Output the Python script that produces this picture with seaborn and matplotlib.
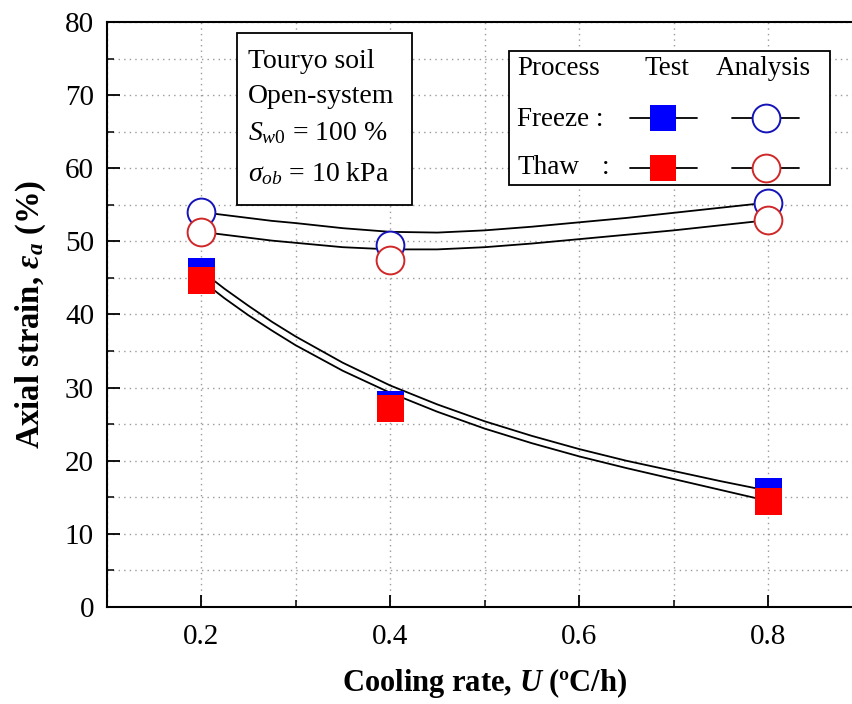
import matplotlib
matplotlib.use("Agg")
import matplotlib.pyplot as plt
import seaborn as sns
import pandas as pd
from matplotlib.lines import Line2D
from matplotlib.patches import Rectangle
from matplotlib.ticker import MultipleLocator

# ---------------- data ----------------
u_test = [0.2, 0.4, 0.8]
freeze_test = [45.9, 27.7, 15.8]
thaw_test = [44.7, 27.2, 14.4]
freeze_analysis = [54.0, 49.5, 55.3]
thaw_analysis = [51.3, 47.5, 52.9]

u_curve = [0.20, 0.225, 0.25, 0.275, 0.30, 0.35, 0.40, 0.45, 0.50, 0.55, 0.60, 0.65, 0.70, 0.75, 0.80]
freeze_test_fit = [46.0, 43.5, 41.2, 39.0, 37.0, 33.4, 30.3, 27.7, 25.4, 23.4, 21.6, 20.0, 18.6, 17.2, 15.9]
thaw_test_fit = [44.7, 42.2, 39.9, 37.8, 35.8, 32.3, 29.3, 26.7, 24.4, 22.4, 20.6, 19.0, 17.5, 16.0, 14.5]
freeze_analysis_curve = [54.0, 53.6, 53.2, 52.8, 52.5, 51.8, 51.3, 51.2, 51.5, 52.0, 52.6, 53.2, 53.9, 54.6, 55.3]
thaw_analysis_curve = [51.3, 50.9, 50.5, 50.1, 49.8, 49.2, 48.9, 48.9, 49.2, 49.7, 50.3, 50.9, 51.5, 52.2, 52.9]

x_ticks = [0.2, 0.4, 0.6, 0.8]
x_tick_labels = ["0.2", "0.4", "0.6", "0.8"]
y_ticks = [0, 10, 20, 30, 40, 50, 60, 70, 80]

info_lines = ["Touryo soil", "Open-system", r"$S_{w0}$ = 100 %", r"$\sigma_{ob}$ = 10 kPa"]

# ---------------- style ----------------
sns.set_style("ticks")
plt.rcParams.update({
    "font.family": ["Liberation Serif", "DejaVu Serif"],
    "mathtext.fontset": "custom",
    "mathtext.rm": "Liberation Serif",
    "mathtext.it": "Liberation Serif:italic",
    "mathtext.bf": "Liberation Serif:bold:italic",
    "axes.edgecolor": "black",
    "axes.labelcolor": "black",
    "xtick.color": "black",
    "ytick.color": "black",
    "axes.linewidth": 1.5,
    "text.color": "black",
})

fig = plt.figure(figsize=(8.53, 7.04), dpi=100)
ax = fig.add_axes([0.1249, 0.1378, 0.8863, 0.831])

BLUE = "#0000FF"
RED = "#FF0000"
BLUE_E = "#1414B8"
RED_E = "#D02828"

curves = pd.DataFrame({
    "u": u_curve,
    "ft": freeze_test_fit,
    "tt": thaw_test_fit,
    "fa": freeze_analysis_curve,
    "ta": thaw_analysis_curve,
})
for col in ["ft", "tt", "fa", "ta"]:
    sns.lineplot(data=curves, x="u", y=col, ax=ax, color="black", lw=1.3,
                 sort=False, estimator=None, zorder=2)

pts = pd.DataFrame({
    "u": u_test,
    "ft": freeze_test,
    "tt": thaw_test,
    "fa": freeze_analysis,
    "ta": thaw_analysis,
})
sns.scatterplot(data=pts, x="u", y="fa", ax=ax, marker="o", s=400, color="white",
                edgecolor=BLUE_E, linewidth=1.4, zorder=3)
sns.scatterplot(data=pts, x="u", y="ta", ax=ax, marker="o", s=400, color="white",
                edgecolor=RED_E, linewidth=1.4, zorder=3)
sns.scatterplot(data=pts, x="u", y="ft", ax=ax, marker="s", s=377, color=BLUE,
                edgecolor="none", linewidth=0, zorder=4)
sns.scatterplot(data=pts, x="u", y="tt", ax=ax, marker="s", s=377, color=RED,
                edgecolor="none", linewidth=0, zorder=4)

ax.set_xlim(0.1, 0.9)
ax.set_ylim(0, 80)
ax.set_xticks(x_ticks)
ax.set_xticklabels(x_tick_labels)
ax.set_yticks(y_ticks)
ax.xaxis.set_minor_locator(MultipleLocator(0.1))
ax.yaxis.set_minor_locator(MultipleLocator(5))
ax.tick_params(which="major", direction="in", length=9, width=1.3, labelsize=21, pad=9)
ax.tick_params(which="minor", direction="in", length=5, width=1.1)
ax.tick_params(axis="x", which="major", pad=12)
ax.grid(which="both", color="#9a9a9a", linestyle=(0, (1, 3)), linewidth=1.0)
ax.set_axisbelow(True)
for s in ax.spines.values():
    s.set_visible(True)
    s.set_linewidth(1.5)

ax.set_xlabel(r"Cooling rate, $\mathbf{U}$ (ºC/h)", fontsize=22, fontweight="bold", labelpad=12)
ax.set_ylabel(r"Axial strain, $\mathbf{\varepsilon_a}$ (%)", fontsize=23.5, fontweight="bold", labelpad=12)

# ---------------- info box ----------------
T = ax.transAxes
ax.add_patch(Rectangle((0.1726, 0.6872), 0.2315, 0.294, transform=T, fill=True,
                       facecolor="white", edgecolor="black", lw=1.3, zorder=5))
for txt, yy in zip(info_lines, [0.9316, 0.8718, 0.8103, 0.7400]):
    ax.text(0.1871, yy, txt, transform=T, fontsize=20, va="center", ha="left", zorder=6)

# ---------------- legend box ----------------
ax.add_patch(Rectangle((0.5324, 0.7214), 0.4246, 0.229, transform=T, fill=True,
                       facecolor="white", edgecolor="black", lw=1.3, zorder=5))
ax.text(0.543, 0.9197, "Process", transform=T, fontsize=19.5, va="center", ha="left", zorder=6)
ax.text(0.7414, 0.9197, "Test", transform=T, fontsize=19.5, va="center", ha="center", zorder=6)
ax.text(0.8683, 0.9197, "Analysis", transform=T, fontsize=19.5, va="center", ha="center", zorder=6)
ax.text(0.543, 0.8325, "Freeze :", transform=T, fontsize=19.5, va="center", ha="left", zorder=6)
ax.text(0.543, 0.7504, "Thaw", transform=T, fontsize=19.5, va="center", ha="left", zorder=6)
ax.text(0.6555, 0.7504, ":", transform=T, fontsize=19.5, va="center", ha="left", zorder=6)

for yy, fc, ec in [(0.8359, BLUE, BLUE_E), (0.7504, RED, RED_E)]:
    ax.add_line(Line2D([0.6925, 0.7811], [yy, yy], transform=T, color="black", lw=1.3, zorder=6))
    ax.add_line(Line2D([0.7362], [yy], transform=T, marker="s", markersize=19.4, color=fc,
                       markeredgewidth=0, linestyle="none", zorder=7))
    ax.add_line(Line2D([0.8274, 0.9160], [yy, yy], transform=T, color="black", lw=1.3, zorder=6))
    ax.add_line(Line2D([0.8724], [yy], transform=T, marker="o", markersize=20, markerfacecolor="white",
                       markeredgecolor=ec, markeredgewidth=1.4, linestyle="none", zorder=7))

fig.savefig("out.png", dpi=100)
